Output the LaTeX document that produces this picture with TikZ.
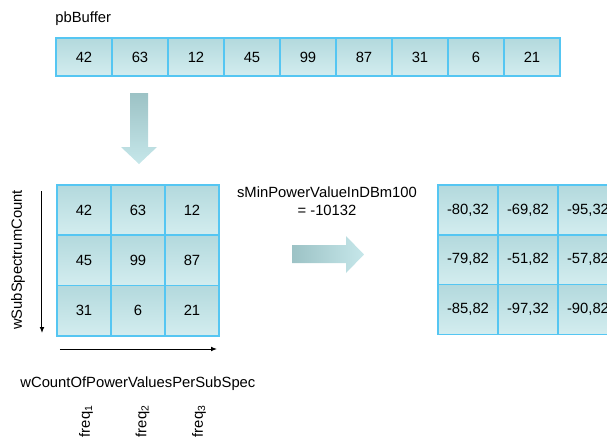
\documentclass[tikz,border=0pt]{standalone}
\usepackage{fontspec}
\setmainfont{Liberation Sans}
\usepackage{xcolor}
\usetikzlibrary{arrows.meta, positioning}
\definecolor{cellTop}{HTML}{B3D9DD}
\definecolor{cellBot}{HTML}{D3EDEF}
\definecolor{cellLine}{HTML}{55C6F2}
\definecolor{arrDark}{HTML}{9CC2C5}
\definecolor{arrLight}{HTML}{C6E7EA}
\begin{document}
\begin{tikzpicture}[
  x=0.5pt, y=-0.5pt,
  font=\fontsize{7.4pt}{9pt}\selectfont,
  cell/.style={draw=cellLine, line width=0.75pt, top color=cellTop, bottom color=cellBot,
               inner sep=0pt, align=center},
  lbl/.style={inner sep=0pt},
  axis/.style={line width=0.5pt, -{Latex[length=3pt,width=2.4pt]}}]
\clip (0,0) rectangle (607,441);
\node[lbl, anchor=base west] (buflbl) at (55,22) {pbBuffer};
\foreach \v [count=\i] in {42,63,12,45,99,87,31,6,21}
  \node[cell, minimum width=28pt, minimum height=19pt] (buf\i) at ({84+(\i-1)*56},57) {\v};
\shade[top color=arrDark, bottom color=arrLight]
  (130,93) -- (148,93) -- (148,147) -- (157,147) -- (139,164) -- (121,147) -- (130,147) -- cycle;
\foreach \v [count=\i from 0] in {42,63,12,45,99,87,31,6,21}{
  \pgfmathtruncatemacro\col{mod(\i,3)}
  \pgfmathtruncatemacro\row{div(\i,3)}
  \node[cell, minimum width=27pt, minimum height=25.2pt] (in\i) at ({84+\col*54},{210+\row*50.3}) {\v};
}
\foreach \v [count=\i from 0] in {-80{,}32,-69{,}82,-95{,}32,-79{,}82,-51{,}82,-57{,}82,-85{,}82,-97{,}32,-90{,}82}{
  \pgfmathtruncatemacro\col{mod(\i,3)}
  \pgfmathtruncatemacro\row{div(\i,3)}
  \node[cell, minimum width=30pt, minimum height=24.9pt] (out\i) at ({468+\col*60},{210+\row*49.7}) {\v};
}
\coordinate (vtop) at (42,191);
\coordinate (vbot) at (42,333);
\coordinate (hleft) at (60,349);
\coordinate (hright) at (217,349);
\draw[axis] (vtop) -- (vbot);
\draw[axis] (hleft) -- (hright);
\node[lbl, rotate=90] (rows) at (18,260) {wSubSpectrumCount};
\node[lbl, anchor=base west] (cols) at (20,387) {wCountOfPowerValuesPerSubSpec};
\foreach \k in {1,2,3}
  \node[lbl, rotate=90] (freq\k) at ({86+(\k-1)*56.5},421) {freq\textsubscript{\k}};
\node[lbl, align=center] (minpow) at (327,201) {sMinPowerValueInDBm100\\= -10132};
\shade[left color=arrDark, right color=arrLight]
  (292,245) -- (346,245) -- (346,236) -- (364,254.5) -- (346,273) -- (346,263) -- (292,263) -- cycle;
\end{tikzpicture}
\end{document}
